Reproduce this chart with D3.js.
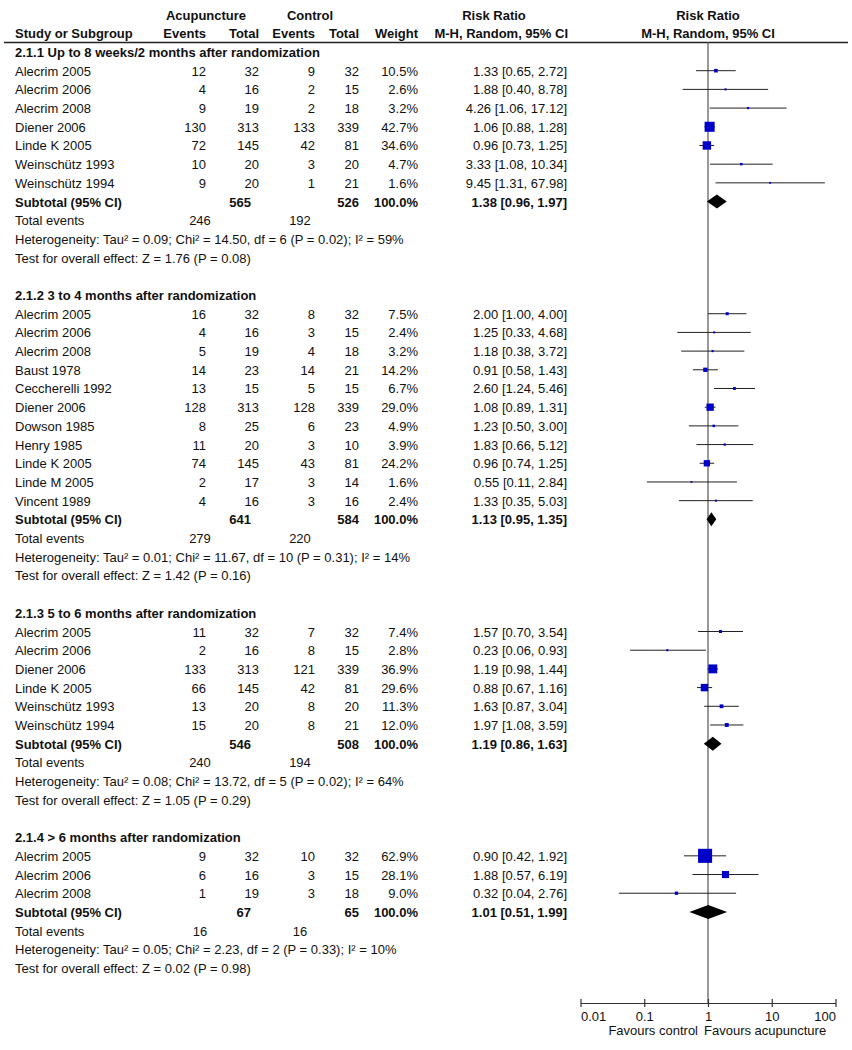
<!DOCTYPE html>
<meta charset="utf-8">
<style>
    body { margin: 0; background: #fff; }
    svg text {
        font-family: "Liberation Sans", Arial, sans-serif;
        font-size: 13px;
        fill: #111;
    }
    .b { font-weight: bold; }
</style>
<svg width="852" height="1050"></svg>

<script src="https://d3js.org/d3.v7.min.js"></script>
<script>
    // ---- data ----
    var groupTitles = [
        "2.1.1 Up to 8 weeks/2 months after randomization",
        "2.1.2 3 to 4 months after randomization",
        "2.1.3 5 to 6 months after randomization",
        "2.1.4 > 6 months after randomization"
    ];
    // study, acu events, acu total, ctrl events, ctrl total, weight %, RR, lower, upper
    var group1 = [
        ["Alecrim 2005", 12, 32, 9, 32, 10.5, 1.33, 0.65, 2.72],
        ["Alecrim 2006", 4, 16, 2, 15, 2.6, 1.88, 0.40, 8.78],
        ["Alecrim 2008", 9, 19, 2, 18, 3.2, 4.26, 1.06, 17.12],
        ["Diener 2006", 130, 313, 133, 339, 42.7, 1.06, 0.88, 1.28],
        ["Linde K 2005", 72, 145, 42, 81, 34.6, 0.96, 0.73, 1.25],
        ["Weinschütz 1993", 10, 20, 3, 20, 4.7, 3.33, 1.08, 10.34],
        ["Weinschütz 1994", 9, 20, 1, 21, 1.6, 9.45, 1.31, 67.98]
    ];
    var group2 = [
        ["Alecrim 2005", 16, 32, 8, 32, 7.5, 2.00, 1.00, 4.00],
        ["Alecrim 2006", 4, 16, 3, 15, 2.4, 1.25, 0.33, 4.68],
        ["Alecrim 2008", 5, 19, 4, 18, 3.2, 1.18, 0.38, 3.72],
        ["Baust 1978", 14, 23, 14, 21, 14.2, 0.91, 0.58, 1.43],
        ["Ceccherelli 1992", 13, 15, 5, 15, 6.7, 2.60, 1.24, 5.46],
        ["Diener 2006", 128, 313, 128, 339, 29.0, 1.08, 0.89, 1.31],
        ["Dowson 1985", 8, 25, 6, 23, 4.9, 1.23, 0.50, 3.00],
        ["Henry 1985", 11, 20, 3, 10, 3.9, 1.83, 0.66, 5.12],
        ["Linde K 2005", 74, 145, 43, 81, 24.2, 0.96, 0.74, 1.25],
        ["Linde M 2005", 2, 17, 3, 14, 1.6, 0.55, 0.11, 2.84],
        ["Vincent 1989", 4, 16, 3, 16, 2.4, 1.33, 0.35, 5.03]
    ];
    var group3 = [
        ["Alecrim 2005", 11, 32, 7, 32, 7.4, 1.57, 0.70, 3.54],
        ["Alecrim 2006", 2, 16, 8, 15, 2.8, 0.23, 0.06, 0.93],
        ["Diener 2006", 133, 313, 121, 339, 36.9, 1.19, 0.98, 1.44],
        ["Linde K 2005", 66, 145, 42, 81, 29.6, 0.88, 0.67, 1.16],
        ["Weinschütz 1993", 13, 20, 8, 20, 11.3, 1.63, 0.87, 3.04],
        ["Weinschütz 1994", 15, 20, 8, 21, 12.0, 1.97, 1.08, 3.59]
    ];
    var group4 = [
        ["Alecrim 2005", 9, 32, 10, 32, 62.9, 0.90, 0.42, 1.92],
        ["Alecrim 2006", 6, 16, 3, 15, 28.1, 1.88, 0.57, 6.19],
        ["Alecrim 2008", 1, 19, 3, 18, 9.0, 0.32, 0.04, 2.76]
    ];
    var groups = [group1, group2, group3, group4];
    // acu total, ctrl total, RR, lower, upper
    var subtotals = [
        [565, 526, 1.38, 0.96, 1.97],
        [641, 584, 1.13, 0.95, 1.35],
        [546, 508, 1.19, 0.86, 1.63],
        [67, 65, 1.01, 0.51, 1.99]
    ];
    var totalEvents = [[246, 192], [279, 220], [240, 194], [16, 16]];
    var heterogeneity = [
        "Heterogeneity: Tau² = 0.09; Chi² = 14.50, df = 6 (P = 0.02); I² = 59%",
        "Heterogeneity: Tau² = 0.01; Chi² = 11.67, df = 10 (P = 0.31); I² = 14%",
        "Heterogeneity: Tau² = 0.08; Chi² = 13.72, df = 5 (P = 0.02); I² = 64%",
        "Heterogeneity: Tau² = 0.05; Chi² = 2.23, df = 2 (P = 0.33); I² = 10%"
    ];
    var overallTests = [
        "Test for overall effect: Z = 1.76 (P = 0.08)",
        "Test for overall effect: Z = 1.42 (P = 0.16)",
        "Test for overall effect: Z = 1.05 (P = 0.29)",
        "Test for overall effect: Z = 0.02 (P = 0.98)"
    ];
    var axisTicks = [0.01, 0.1, 1, 10, 100];

    // ---- layout ----
    var svg = d3.select("svg");
    var x = d3.scaleLog().domain([0.01, 100]).range([580.5, 835.5]);
    var rowCount = 50;
    var y = d3.scaleLinear().domain([0, rowCount - 1]).range([52, 968]);
    var boxSize = d3.scaleLinear().domain([0, 100]).range([1.5, 21.5]);
    var axisY = 1003;
    var f2 = d3.format(".2f");
    function ciText(r, lo, hi) { return f2(r) + " [" + f2(lo) + ", " + f2(hi) + "]"; }

    // column right edges
    var col = { e1: 206, n1: 259, e2: 315, n2: 359, w: 418, rr: 567 };

    function txt(xp, yp, s, anchor, bold) {
        return svg.append("text")
            .attr("x", xp).attr("y", yp)
            .attr("text-anchor", anchor || "start")
            .attr("class", bold ? "b" : null)
            .text(s);
    }

    // header
    txt(206, 19.5, "Acupuncture", "middle", true);
    txt(310, 19.5, "Control", "middle", true);
    txt(494, 19.5, "Risk Ratio", "middle", true);
    txt(x(1), 19.5, "Risk Ratio", "middle", true);
    txt(15, 38, "Study or Subgroup", "start", true);
    txt(col.e1, 38, "Events", "end", true);
    txt(col.n1, 38, "Total", "end", true);
    txt(col.e2, 38, "Events", "end", true);
    txt(col.n2, 38, "Total", "end", true);
    txt(col.w, 38, "Weight", "end", true);
    txt(col.rr + 1, 38, "M-H, Random, 95% CI", "end", true);
    txt(x(1), 38, "M-H, Random, 95% CI", "middle", true);

    svg.append("line")
        .attr("x1", 4).attr("x2", 848)
        .attr("y1", 42.5).attr("y2", 42.5)
        .attr("stroke", "#222").attr("stroke-width", 1.5);

    // line of no effect
    svg.append("line")
        .attr("x1", x(1)).attr("x2", x(1))
        .attr("y1", 42).attr("y2", axisY)
        .attr("stroke", "#555").attr("stroke-width", 1.2);

    var plot = svg.append("g");
    var row = 0;
    groups.forEach(function(studies, gi) {
        var base = 5;
        txt(15, y(row) + base, groupTitles[gi], "start", true);
        row++;
        studies.forEach(function(d) {
            var yc = y(row);
            txt(15, yc + base, d[0]);
            txt(col.e1, yc + base, d[1], "end");
            txt(col.n1, yc + base, d[2], "end");
            txt(col.e2, yc + base, d[3], "end");
            txt(col.n2, yc + base, d[4], "end");
            txt(col.w, yc + base, d[5].toFixed(1) + "%", "end");
            txt(col.rr, yc + base, ciText(d[6], d[7], d[8]), "end");
            plot.append("line")
                .attr("x1", x(d[7])).attr("x2", x(d[8]))
                .attr("y1", yc).attr("y2", yc)
                .attr("stroke", "#222").attr("stroke-width", 1);
            var s = boxSize(d[5]);
            plot.append("rect")
                .attr("x", x(d[6]) - s / 2).attr("y", yc - s / 2)
                .attr("width", s).attr("height", s)
                .attr("fill", "#0000c8");
            row++;
        });
        var st = subtotals[gi], yc = y(row);
        txt(15, yc + base, "Subtotal (95% CI)", "start", true);
        txt(col.n1 - 8, yc + base, st[0], "end", true);
        txt(col.n2, yc + base, st[1], "end", true);
        txt(col.w, yc + base, "100.0%", "end", true);
        txt(col.rr, yc + base, ciText(st[2], st[3], st[4]), "end", true);
        var h = 7;
        plot.append("path")
            .attr("d", "M" + x(st[3]) + "," + yc + "L" + x(st[2]) + "," + (yc - h) +
                "L" + x(st[4]) + "," + yc + "L" + x(st[2]) + "," + (yc + h) + "Z")
            .attr("fill", "#000");
        row++;
        yc = y(row);
        txt(15, yc + base, "Total events");
        txt(200, yc + base, totalEvents[gi][0], "middle");
        txt(300, yc + base, totalEvents[gi][1], "middle");
        row++;
        txt(15, y(row) + base, heterogeneity[gi]);
        row++;
        txt(15, y(row) + base, overallTests[gi]);
        row += 2;
    });

    // axis
    var axis = d3.axisBottom(x)
        .tickValues(axisTicks)
        .tickFormat(function(d) { return String(d); })
        .tickSizeOuter(0);
    var ax = svg.append("g")
        .attr("transform", "translate(0," + axisY + ")")
        .call(axis);
    ax.select(".domain").attr("stroke", "#333").attr("stroke-width", 1.2);
    ax.selectAll(".tick line").attr("y1", -4).attr("y2", 4).attr("stroke", "#333").attr("stroke-width", 1.2);
    ax.selectAll(".tick text")
        .attr("y", 18).attr("dy", null)
        .attr("font-family", null).attr("font-size", null)
        .attr("text-anchor", function(d, i) {
            return i === 0 ? "start" : (i === axisTicks.length - 1 ? "end" : "middle");
        });
    txt(x(1) - 10, 1035, "Favours control", "end");
    txt(x(1) - 4, 1035, "Favours acupuncture", "start");
</script>
